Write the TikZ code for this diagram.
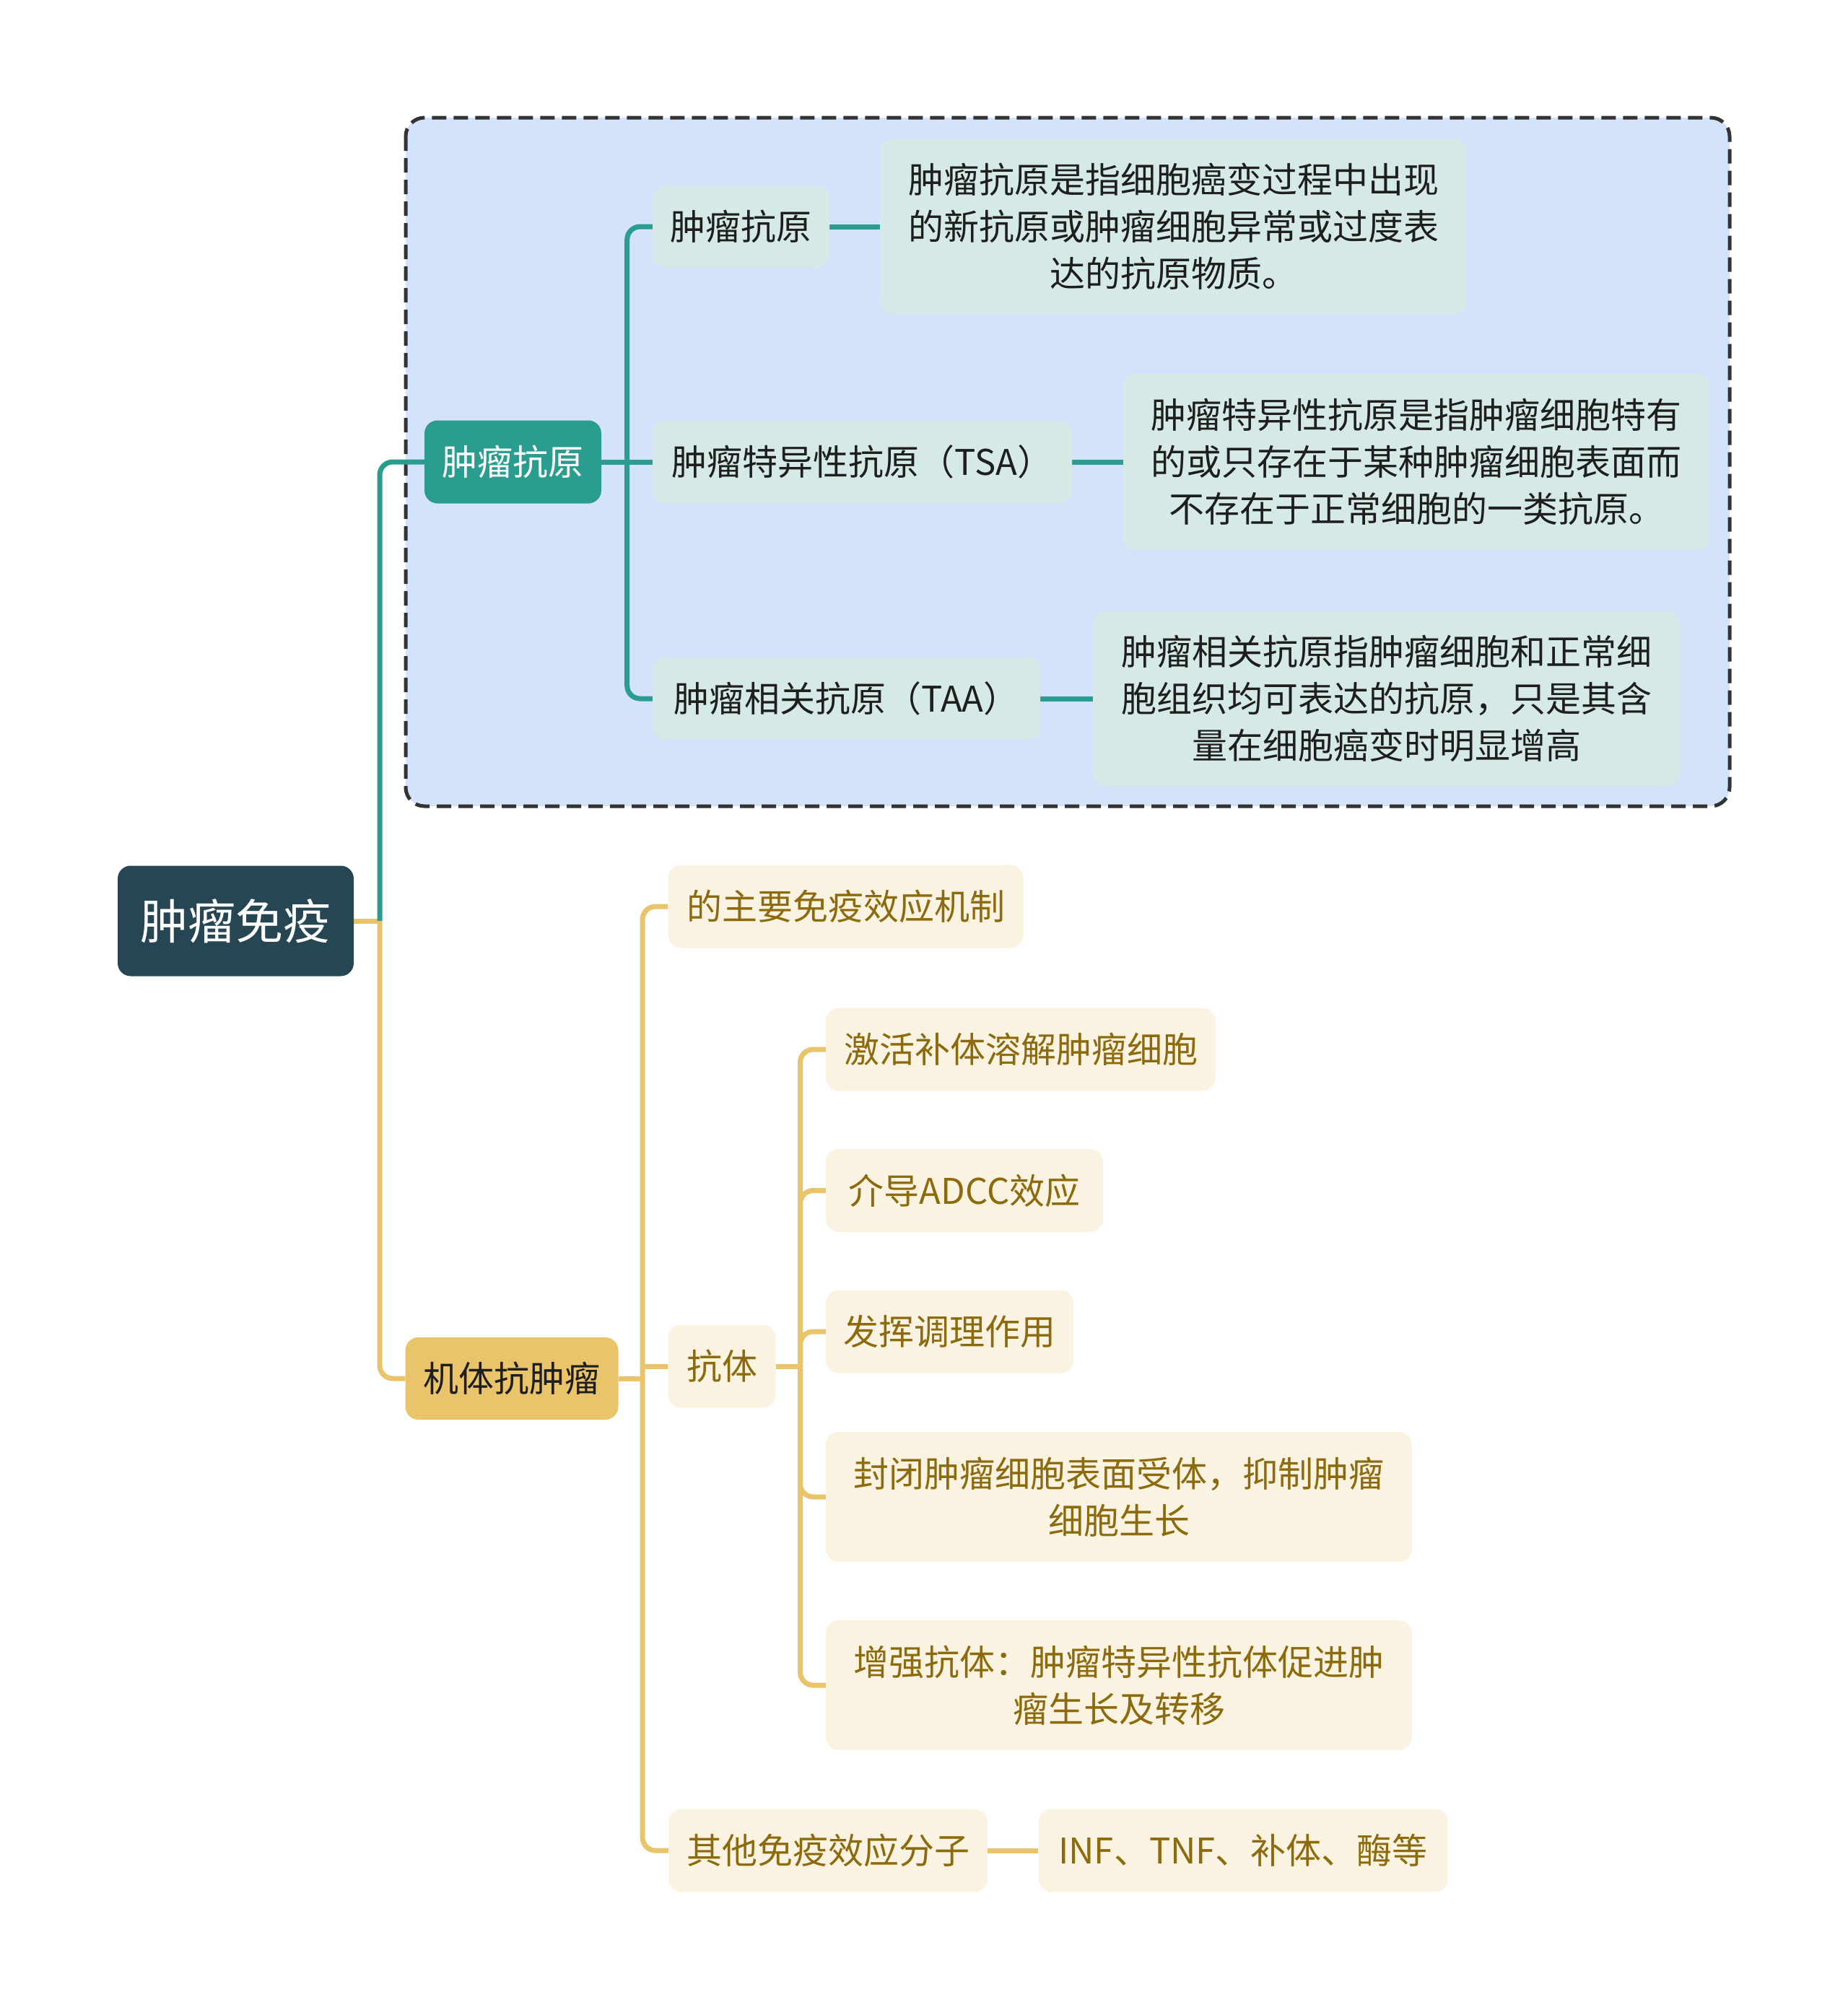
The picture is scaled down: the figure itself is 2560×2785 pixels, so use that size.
\documentclass[tikz,border=0pt]{standalone}
\usepackage{fontspec}
\setmainfont{Noto Sans CJK SC}
\usetikzlibrary{calc}
\definecolor{rootc}{HTML}{264653}
\definecolor{tealc}{HTML}{2A9D8F}
\definecolor{tealbg}{HTML}{D5EAE6}
\definecolor{boxbg}{HTML}{D3E3FC}
\definecolor{boxline}{HTML}{333333}
\definecolor{goldc}{HTML}{E9C46A}
\definecolor{goldbg}{HTML}{FAF3E1}
\definecolor{goldtxt}{HTML}{8C6A0E}
\definecolor{darktxt}{HTML}{1E1E1E}
\pgfdeclarelayer{back}
\pgfdeclarelayer{lines}
\pgfsetlayers{back,lines,main}
\begin{document}
\begin{tikzpicture}[x=1pt,y=-1pt,
  base/.style={rounded corners=18pt, inner sep=0pt, align=center, font=\fontsize{49}{65}\selectfont},
  rootn/.style={base, fill=rootc, text=white, font=\fontsize{66}{80}\selectfont},
  tmain/.style={base, fill=tealc, text=white},
  tchild/.style={base, fill=tealbg, text=darktxt},
  ymain/.style={base, fill=goldc, text=darktxt},
  ychild/.style={base, fill=goldbg, text=goldtxt},
  tline/.style={draw=tealc, line width=7pt},
  yline/.style={draw=goldc, line width=7pt},
]
\useasboundingbox (0,0) rectangle (2560,2785);

% nodes
\node[rootn, minimum width=327pt, minimum height=153pt] (root) at (326.5,1276) {肿瘤免疫};

\node[tmain, minimum width=245pt, minimum height=115pt] (ta) at (710.5,640) {肿瘤抗原};
\node[tchild, minimum width=245pt, minimum height=114pt] (c1) at (1026.5,314) {肿瘤抗原};
\node[tchild, minimum width=581pt, minimum height=115pt] (c2) at (1194.5,640) {肿瘤特异性抗原（TSA）};
\node[tchild, minimum width=537pt, minimum height=114pt] (c3) at (1172.5,968) {肿瘤相关抗原（TAA）};
\node[tchild, minimum width=813pt, minimum height=243pt] (d1) at (1625.5,314) {肿瘤抗原是指细胞癌变过程中出现\\的新抗原或肿瘤细胞异常或过度表\\达的抗原物质。};
\node[tchild, minimum width=812pt, minimum height=245pt] (d2) at (1962,640) {肿瘤特异性抗原是指肿瘤细胞特有\\的或只存在于某种肿瘤细胞表面而\\不存在于正常细胞的一类抗原。};
\node[tchild, minimum width=813pt, minimum height=243pt] (d3) at (1920.5,968) {肿瘤相关抗原指肿瘤细胞和正常细\\胞组织均可表达的抗原，只是其含\\量在细胞癌变时明显增高};

\node[ymain, minimum width=295pt, minimum height=114pt] (ya) at (709,1910) {机体抗肿瘤};
\node[ychild, minimum width=492pt, minimum height=115pt] (m1) at (1171.6,1256) {的主要免疫效应机制};
\node[ychild, minimum width=149pt, minimum height=115pt] (kt) at (1000,1893) {抗体};
\node[ychild, minimum width=442pt, minimum height=115pt] (m3) at (1147,2564) {其他免疫效应分子};
\node[ychild, minimum width=567pt, minimum height=115pt] (inf) at (1722,2564) {INF、TNF、补体、酶等};

\node[ychild, minimum width=540pt, minimum height=115pt] (a1) at (1414,1454) {激活补体溶解肿瘤细胞};
\node[ychild, minimum width=384pt, minimum height=115pt] (a2) at (1336,1649.5) {介导ADCC效应};
\node[ychild, minimum width=343pt, minimum height=115pt] (a3) at (1315.5,1845) {发挥调理作用};
\node[ychild, minimum width=812pt, minimum height=180pt] (a4) at (1550,2074) {封闭肿瘤细胞表面受体，抑制肿瘤\\细胞生长};
\node[ychild, minimum width=812pt, minimum height=180pt] (a5) at (1550,2335) {增强抗体：肿瘤特异性抗体促进肿\\瘤生长及转移};

% junctions
\coordinate (j0) at (526,1276);
\coordinate (ja) at (868.7,640);
\coordinate (jb) at (890,1910);
\coordinate (jc) at (1108.5,1893);

\begin{pgfonlayer}{back}
\fill[white] (0,0) rectangle (2560,2785);
\draw[draw=boxline, line width=5pt, dash pattern=on 20pt off 10pt, fill=boxbg, rounded corners=26pt] (562,163) rectangle (2396,1117);
\end{pgfonlayer}

\begin{pgfonlayer}{lines}
% root
\draw[yline] (root.east) -- (j0);
\draw[tline, rounded corners=18pt] (j0) |- (ta.west);
\draw[yline, rounded corners=18pt] (j0) |- (ya.west);
% teal branch
\draw[tline] (ta.east) -- (ja);
\draw[tline, rounded corners=18pt] (ja) |- (c1.west);
\draw[tline] (ja) -- (c2.west);
\draw[tline, rounded corners=18pt] (ja) |- (c3.west);
\draw[tline] (c1.east) -- (d1.west);
\draw[tline] (c2.east) -- (d2.west);
\draw[tline] (c3.east) -- (d3.west);
% gold branch
\draw[yline] (ya.east) -- (jb);
\draw[yline, rounded corners=18pt] (jb) |- (m1.west);
\draw[yline] (jb |- kt.west) -- (kt.west);
\draw[yline, rounded corners=18pt] (jb) |- (m3.west);
\draw[yline] (m3.east) -- (inf.west);
% antibody
\draw[yline] (kt.east) -- (jc);
\draw[yline, rounded corners=18pt] (jc) |- (a1.west);
\draw[yline, rounded corners=18pt] (jc) |- (a2.west);
\draw[yline, rounded corners=18pt] (jc) |- (a3.west);
\draw[yline, rounded corners=18pt] (jc) |- (a4.west);
\draw[yline, rounded corners=18pt] (jc) |- (a5.west);
\end{pgfonlayer}
\end{tikzpicture}
\end{document}
